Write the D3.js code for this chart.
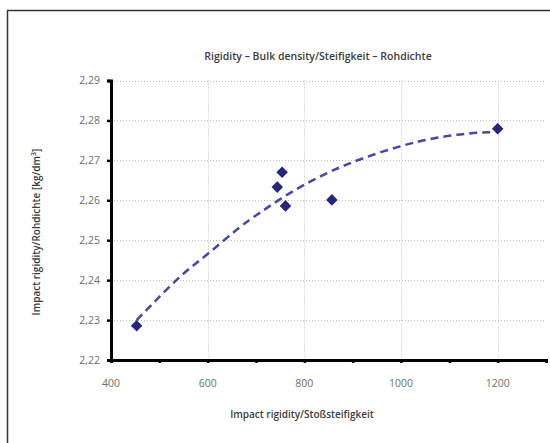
<!DOCTYPE html>
<html>
<head>
<meta charset="utf-8">
<script src="https://cdn.jsdelivr.net/npm/d3@7"></script>
<style>
  body { margin: 0; background: #fff; }
  svg { font-family: 'Open Sans', sans-serif; }
  .grid line { stroke: #bdbdbd; stroke-width: 1; stroke-dasharray: 1 2; }
  .tick-label { fill: #6e6e6e; font-size: 10.5px; }
  .title { fill: #3c3c3c; font-size: 10.5px; font-weight: 600; }
  .axis-title { fill: #3c3c3c; font-size: 10px; font-weight: 600; }
</style>
</head>
<body>
<div id="chart"></div>
<script>
// measured points
var impactRigidity = [453, 744, 754, 761, 857, 1200];
var bulkDensity = [2.2286, 2.2633, 2.2670, 2.2586, 2.2601, 2.2779];

// trendline
var trendX = [453, 490, 548, 600, 666, 707, 752, 800, 859, 921, 1000, 1066, 1136, 1190];
var trendY = [2.2300, 2.2346, 2.2417, 2.2464, 2.2534, 2.2568, 2.2605, 2.2640, 2.2676, 2.2706, 2.2737, 2.2756, 2.2768, 2.2771];

var xTicks = [400, 500, 600, 700, 800, 900, 1000, 1100, 1200, 1300];
var xLabels = [400, 600, 800, 1000, 1200];
var xGrid = [600, 800, 1000, 1200];
var yTicks = [2.22, 2.23, 2.24, 2.25, 2.26, 2.27, 2.28, 2.29];

var svg = d3.select('#chart')
    .append('svg')
    .attr('width', 550)
    .attr('height', 443);

// frame
svg.append('rect')
    .attr('x', 7.5)
    .attr('y', 10.5)
    .attr('width', 560)
    .attr('height', 450)
    .style('fill', 'none')
    .style('stroke', '#333')
    .style('stroke-width', 1.5);

var x = d3.scaleLinear().domain([400, 1300]).range([111, 546]);
var y = d3.scaleLinear().domain([2.22, 2.29]).range([360, 80.5]);

// grid
var grid = svg.append('g').attr('class', 'grid');
grid.selectAll('.hgrid')
    .data(yTicks.slice(1))
    .enter().append('line')
    .attr('x1', x(400))
    .attr('x2', x(1300))
    .attr('y1', function(d) { return Math.round(y(d)) + 0.5; })
    .attr('y2', function(d) { return Math.round(y(d)) + 0.5; });
grid.selectAll('.vgrid')
    .data(xGrid)
    .enter().append('line')
    .attr('y1', y(2.29))
    .attr('y2', y(2.22))
    .attr('x1', function(d) { return Math.round(x(d)) + 0.5; })
    .attr('x2', function(d) { return Math.round(x(d)) + 0.5; });

// axes
var yAxis = svg.append('g')
    .attr('transform', 'translate(' + x(400) + ',0)')
    .call(d3.axisLeft(y).tickValues(yTicks).tickSize(4).tickFormat(''));
var xAxis = svg.append('g')
    .attr('transform', 'translate(0,' + y(2.22) + ')')
    .call(d3.axisBottom(x).tickValues(xTicks).tickSize(3).tickFormat(''));
[xAxis, yAxis].forEach(function(a) {
    a.select('.domain').style('stroke', '#000').style('stroke-width', 3);
    a.selectAll('.tick line').style('stroke', '#000').style('stroke-width', 2.5);
});

svg.selectAll('.ylab')
    .data(yTicks)
    .enter().append('text')
    .attr('class', 'tick-label')
    .attr('x', 100)
    .attr('y', function(d) { return y(d); })
    .attr('dy', '0.35em')
    .style('text-anchor', 'end')
    .text(function(d) { return d3.format('.2f')(d).replace('.', ','); });

svg.selectAll('.xlab')
    .data(xLabels)
    .enter().append('text')
    .attr('class', 'tick-label')
    .attr('x', function(d) { return x(d); })
    .attr('y', 387)
    .style('text-anchor', 'middle')
    .text(function(d) { return d; });

// trendline
var trend = trendX.map(function(d, i) { return [d, trendY[i]]; });
svg.append('path')
    .datum(trend)
    .attr('d', d3.line()
        .x(function(d) { return x(d[0]); })
        .y(function(d) { return y(d[1]); })
        .curve(d3.curveBasis))
    .style('fill', 'none')
    .style('stroke', '#4747a8')
    .style('stroke-width', 2.5)
    .style('stroke-dasharray', '8 5');

// points
svg.selectAll('.pt')
    .data(impactRigidity)
    .enter().append('path')
    .attr('class', 'pt')
    .attr('d', d3.symbol().type(d3.symbolDiamond2).size(85))
    .attr('transform', function(d, i) { return 'translate(' + x(d) + ',' + y(bulkDensity[i]) + ')'; })
    .style('fill', '#26267e');

// titles
svg.append('text')
    .attr('class', 'title')
    .attr('x', 318)
    .attr('y', 60)
    .style('text-anchor', 'middle')
    .text('Rigidity \u2013 Bulk density/Steifigkeit \u2013 Rohdichte');

svg.append('text')
    .attr('class', 'axis-title')
    .attr('x', 302)
    .attr('y', 418)
    .style('text-anchor', 'middle')
    .text('Impact rigidity/Stoßsteifigkeit');

svg.append('text')
    .attr('class', 'axis-title')
    .attr('transform', 'translate(40,' + 232 + ') rotate(-90)')
    .style('text-anchor', 'middle')
    .html('Impact rigidity/Rohdichte [kg/dm<tspan dy="-4" font-size="7">3</tspan><tspan dy="4">]</tspan>');
</script>
</body>
</html>
